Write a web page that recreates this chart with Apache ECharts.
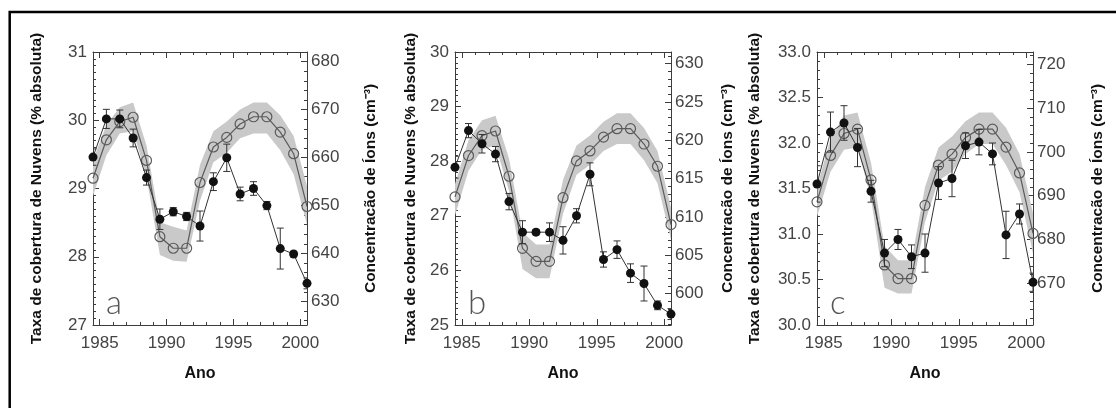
<!DOCTYPE html>
<html><head><meta charset="utf-8">
<script src="https://cdn.jsdelivr.net/npm/echarts@6/dist/echarts.min.js"></script>
<style>html,body{margin:0;padding:0;background:#fff}#c{width:1116px;height:408px}</style>
</head><body><div id="c"></div>
<script>
// ---- data ----
const years = [1984.5, 1985.5, 1986.5, 1987.5, 1988.5, 1989.5, 1990.5, 1991.5, 1992.5, 1993.5, 1994.5, 1995.5, 1996.5, 1997.5, 1998.5, 1999.5, 2000.5];
const xTickLabels = [1985, 1990, 1995, 2000];
const xMinorTicks = [1985, 1986, 1987, 1988, 1989, 1990, 1991, 1992, 1993, 1994, 1995, 1996, 1997, 1998, 1999, 2000];
const panelLetters = ['a', 'b', 'c'];

// panel a
const cloudA = [29.46, 30.02, 30.02, 29.74, 29.16, 28.55, 28.66, 28.59, 28.45, 29.10, 29.45, 28.92, 29.00, 28.75, 28.12, 28.04, 27.61];
const cloudErrA = [0.12, 0.14, 0.13, 0.13, 0.11, 0.15, 0.06, 0.06, 0.22, 0.13, 0.20, 0.10, 0.10, 0.06, 0.30, 0.04, 0.08];
const ionA = [655.7, 663.7, 667.5, 668.4, 659.4, 643.5, 641.1, 641.1, 654.8, 662.2, 664.2, 667.0, 668.5, 668.5, 665.3, 660.8, 649.8];
const ionHiA = [659.5, 666.8, 670.5, 671.5, 662.5, 646.5, 645.6, 644.8, 658.5, 665.5, 667.5, 670.0, 671.5, 671.5, 668.8, 664.5, 654.0];
const ionLoA = [652.0, 660.5, 665.0, 665.5, 656.0, 639.7, 638.5, 638.3, 651.0, 659.0, 661.0, 664.0, 665.0, 665.0, 661.5, 656.5, 646.0];
const leftTicksA = [27, 28, 29, 30, 31];
const rightTicksA = [630, 640, 650, 660, 670, 680];

// panel b
const cloudB = [27.89, 28.56, 28.32, 28.13, 27.26, 26.70, 26.70, 26.70, 26.55, 27.00, 27.76, 26.20, 26.38, 25.95, 25.76, 25.36, 25.20];
const cloudErrB = [0.20, 0.13, 0.17, 0.14, 0.15, 0.21, 0.05, 0.17, 0.25, 0.13, 0.21, 0.14, 0.16, 0.17, 0.32, 0.08, 0.10];
const ionB = [612.6, 618.0, 620.6, 621.2, 615.3, 605.9, 604.2, 604.2, 612.5, 617.3, 618.6, 620.4, 621.5, 621.5, 619.5, 616.6, 609.0];
const ionHiB = [614.3, 620.0, 622.6, 623.2, 617.6, 608.0, 606.4, 606.4, 614.8, 619.3, 620.6, 622.4, 623.5, 623.5, 621.6, 618.6, 611.2];
const ionLoB = [610.2, 616.0, 618.8, 619.3, 613.4, 603.2, 602.0, 602.0, 610.4, 615.5, 616.8, 618.6, 619.5, 619.5, 617.4, 614.4, 607.0];
const leftTicksB = [25, 26, 27, 28, 29, 30];
const rightTicksB = [600, 605, 610, 615, 620, 625, 630];

// panel c
const cloudC = [31.55, 32.12, 32.22, 31.95, 31.47, 30.79, 30.94, 30.75, 30.79, 31.56, 31.61, 31.97, 32.01, 31.88, 30.99, 31.22, 30.47];
const cloudErrC = [0.20, 0.22, 0.19, 0.21, 0.12, 0.15, 0.11, 0.13, 0.21, 0.18, 0.20, 0.14, 0.14, 0.12, 0.26, 0.11, 0.10];
const ionC = [688.6, 699.2, 704.2, 705.2, 693.6, 674.2, 671.1, 671.1, 687.8, 697.0, 699.5, 703.3, 705.2, 705.2, 701.1, 695.2, 681.4];
const ionHiC = [692.0, 703.0, 708.3, 709.0, 697.5, 678.5, 675.3, 675.3, 692.0, 701.0, 703.5, 707.0, 709.0, 709.0, 705.5, 699.5, 686.0];
const ionLoC = [685.2, 695.5, 700.5, 701.0, 689.5, 669.0, 667.7, 667.7, 684.0, 693.5, 695.5, 699.5, 701.8, 701.8, 697.0, 690.8, 676.8];
const leftTicksC = [30.0, 30.5, 31.0, 31.5, 32.0, 32.5, 33.0];
const rightTicksC = [670, 680, 690, 700, 710, 720];

const leftTitle = 'Taxa de cobertura de Nuvens (% absoluta)';
const rightTitle = 'Concentracão de Íons (cm⁻³)';
const xTitle = 'Ano';

// ---- layout/style ----
const panels = [
  {cloud: cloudA, err: cloudErrA, ion: ionA, hi: ionHiA, lo: ionLoA, lt: leftTicksA, rt: rightTicksA,
   lInt: 1, lMinor: 10, lDec: 0, rRange: [625.1, 682.0], rMinorStep: 2,
   grid: {left: 93, top: 52, width: 214, height: 273}, lGap: 48, rGap: 56},
  {cloud: cloudB, err: cloudErrB, ion: ionB, hi: ionHiB, lo: ionLoB, lt: leftTicksB, rt: rightTicksB,
   lInt: 1, lMinor: 10, lDec: 0, rRange: [595.9, 631.5], rMinorStep: 1,
   grid: {left: 455, top: 52, width: 216, height: 273}, lGap: 36, rGap: 49},
  {cloud: cloudC, err: cloudErrC, ion: ionC, hi: ionHiC, lo: ionLoC, lt: leftTicksC, rt: rightTicksC,
   lInt: 0.5, lMinor: 5, lDec: 1, rRange: [660.5, 722.8], rMinorStep: 2,
   grid: {left: 817, top: 52, width: 216, height: 273}, lGap: 54, rGap: 57}
];

const AX = '#3c3c3c';
const LBL = {color: '#444', fontSize: 17, fontFamily: 'Liberation Sans, Arial, sans-serif'};
const TITLE = {color: '#111', fontSize: 15.5, fontWeight: 'bold', fontFamily: 'Liberation Sans, Arial, sans-serif'};

function stepList(a, b, s) { const out = []; for (let v = Math.ceil(a / s) * s; v <= b + 1e-9; v += s) out.push(+v.toFixed(4)); return out; }

const grid = [], xAxis = [], yAxis = [], series = [], graphic = [];

panels.forEach((p, k) => {
  grid.push(Object.assign({containLabel: false}, p.grid));
  const xb = {type: 'value', gridIndex: k, min: years[0], max: years[years.length - 1], splitLine: {show: false}};
  xAxis.push(Object.assign({}, xb, {position: 'bottom',
    name: xTitle, nameLocation: 'middle', nameGap: 41, nameTextStyle: Object.assign({}, TITLE, {fontSize: 16}),
    axisLine: {show: true, lineStyle: {color: AX, width: 1}},
    axisTick: {show: true, inside: true, length: 6, customValues: xTickLabels, lineStyle: {color: AX}},
    axisLabel: Object.assign({show: true, margin: 10, customValues: xTickLabels, formatter: v => String(v)}, LBL)}));
  xAxis.push(Object.assign({}, xb, {position: 'bottom', axisLine: {show: false},
    axisTick: {show: true, inside: true, length: 3, customValues: xMinorTicks, lineStyle: {color: AX}},
    axisLabel: {show: false}}));
  xAxis.push(Object.assign({}, xb, {position: 'top',
    axisLine: {show: true, lineStyle: {color: AX, width: 1}},
    axisTick: {show: true, inside: true, length: 6, customValues: xTickLabels, lineStyle: {color: AX}},
    axisLabel: {show: false}}));
  xAxis.push(Object.assign({}, xb, {position: 'top', axisLine: {show: false},
    axisTick: {show: true, inside: true, length: 3, customValues: xMinorTicks, lineStyle: {color: AX}},
    axisLabel: {show: false}}));

  yAxis.push({type: 'value', gridIndex: k, position: 'left', min: p.lt[0], max: p.lt[p.lt.length - 1], interval: p.lInt,
    name: leftTitle, nameLocation: 'middle', nameGap: p.lGap, nameTextStyle: TITLE,
    axisLine: {show: true, lineStyle: {color: AX, width: 1}},
    axisTick: {show: true, inside: true, length: 6, lineStyle: {color: AX}},
    minorTick: {show: true, splitNumber: p.lMinor, length: 3, lineStyle: {color: AX}},
    splitLine: {show: false}, minorSplitLine: {show: false},
    axisLabel: Object.assign({margin: 6, formatter: v => v.toFixed(p.lDec)}, LBL)});
  yAxis.push({type: 'value', gridIndex: k, position: 'right', min: p.rRange[0], max: p.rRange[1],
    name: rightTitle, nameLocation: 'middle', nameGap: p.rGap, nameTextStyle: TITLE,
    axisLine: {show: true, lineStyle: {color: AX, width: 1}},
    axisTick: {show: true, inside: true, length: 6, customValues: p.rt, lineStyle: {color: AX}},
    splitLine: {show: false},
    axisLabel: Object.assign({margin: 4, customValues: p.rt, formatter: v => String(v)}, LBL)});
  yAxis.push({type: 'value', gridIndex: k, position: 'right', min: p.rRange[0], max: p.rRange[1],
    axisLine: {show: false}, splitLine: {show: false}, axisLabel: {show: false},
    axisTick: {show: true, inside: true, length: 3, customValues: stepList(p.rRange[0], p.rRange[1], p.rMinorStep), lineStyle: {color: AX}}});

  const xi = 4 * k, yl = 3 * k, yr = 3 * k + 1;
  series.push({type: 'custom', xAxisIndex: xi, yAxisIndex: yr, clip: true, z: 1, silent: true,
    data: [[years[0], p.lo[0]]],
    renderItem: (params, api) => {
      const pts = [];
      years.forEach((x, i) => pts.push(api.coord([x, p.hi[i]])));
      for (let i = years.length - 1; i >= 0; i--) pts.push(api.coord([years[i], p.lo[i]]));
      return {type: 'polygon', shape: {points: pts}, style: {fill: '#c9c9c9', stroke: null}};
    }});
  series.push({type: 'line', xAxisIndex: xi, yAxisIndex: yr, z: 3,
    data: years.map((x, i) => [x, p.ion[i]]),
    symbol: 'circle', symbolSize: 10, showAllSymbol: true,
    itemStyle: {color: 'rgba(255,255,255,0)', borderColor: '#5a5a5a', borderWidth: 1.2},
    lineStyle: {color: '#5a5a5a', width: 1.2}});
  series.push({type: 'custom', xAxisIndex: xi, yAxisIndex: yl, clip: true, z: 4, silent: true,
    data: years.map((x, i) => [x, p.cloud[i], p.err[i]]),
    renderItem: (params, api) => {
      const x = api.value(0), y = api.value(1), e = api.value(2);
      const t = api.coord([x, y + e]), b = api.coord([x, y - e]);
      const w = 3.5, st = {stroke: '#333', lineWidth: 1};
      return {type: 'group', children: [
        {type: 'line', shape: {x1: t[0], y1: t[1], x2: b[0], y2: b[1]}, style: st},
        {type: 'line', shape: {x1: t[0] - w, y1: t[1], x2: t[0] + w, y2: t[1]}, style: st},
        {type: 'line', shape: {x1: b[0] - w, y1: b[1], x2: b[0] + w, y2: b[1]}, style: st}
      ]};
    }});
  series.push({type: 'line', xAxisIndex: xi, yAxisIndex: yl, z: 5,
    data: years.map((x, i) => [x, p.cloud[i]]),
    symbol: 'circle', symbolSize: 9, showAllSymbol: true,
    itemStyle: {color: '#111'},
    lineStyle: {color: '#333', width: 1}});

  graphic.push({type: 'text', left: p.grid.left + 13, top: p.grid.top + p.grid.height - 38,
    style: {text: panelLetters[k], font: '300 33px Lato, sans-serif', fill: '#555'}});
});

graphic.push({type: 'rect', shape: {x: 9.7, y: 12, width: 1300, height: 600}, style: {fill: 'none', stroke: '#000', lineWidth: 2.5}, silent: true});

const chart = echarts.init(document.getElementById('c'), null, {renderer: 'canvas'});
chart.setOption({animation: false, backgroundColor: '#fff', grid, xAxis, yAxis, series, graphic});
</script>
</body></html>
